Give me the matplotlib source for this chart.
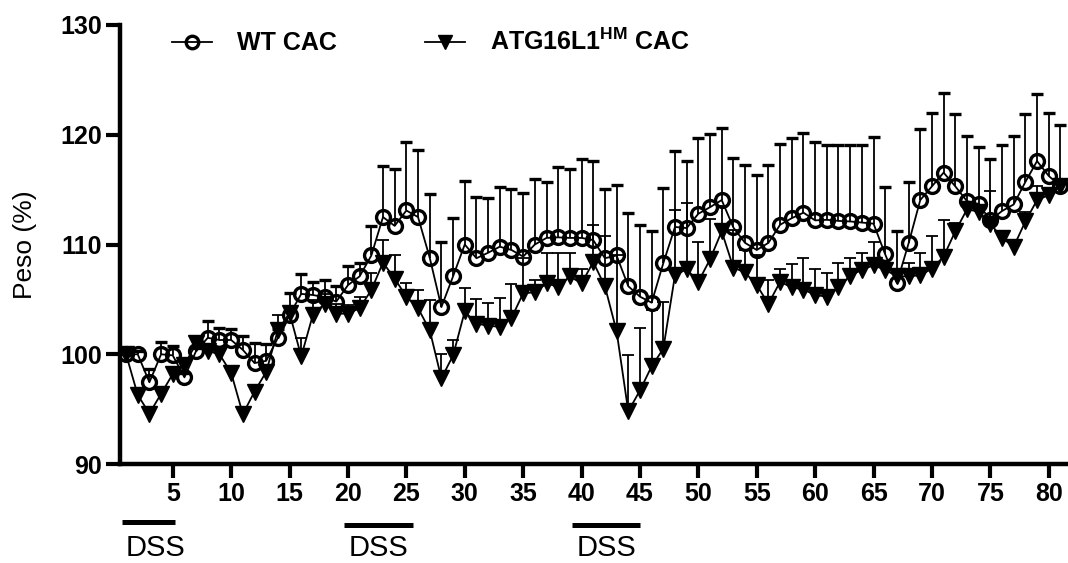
import numpy as np
import matplotlib
matplotlib.use('Agg')
import matplotlib.pyplot as plt
import matplotlib.transforms as mtransforms

plt.rcParams['font.family'] = ['Liberation Sans', 'DejaVu Sans']
plt.rcParams['mathtext.fontset'] = 'custom'
plt.rcParams['mathtext.rm'] = 'Liberation Sans'
plt.rcParams['mathtext.bf'] = 'Liberation Sans:bold'

# Days
days = np.arange(1, 82)

# WT CAC: mean weight (%) and SD (upper bar only)
wt_mean = [100.0, 100.0, 97.45, 100.0, 99.9, 97.9, 100.3, 101.5, 101.3, 101.3,
           100.4, 99.2, 99.4, 101.5, 103.6, 105.5, 105.4, 105.2, 104.8, 106.3,
           107.1, 109.0, 112.5, 111.7, 113.1, 112.5, 108.8, 104.3, 107.1, 110.0,
           108.75, 109.25, 109.8, 109.5, 108.9, 110.0, 110.6, 110.65, 110.6, 110.6,
           110.4, 108.75, 109.0, 106.2, 105.25, 104.7, 108.3, 111.6, 111.5, 112.8,
           113.4, 114.05, 111.55, 110.15, 109.5, 110.15, 111.8, 112.4, 112.9, 112.2,
           112.25, 112.15, 112.1, 112.0, 111.9, 109.1, 106.5, 110.1, 114.05, 115.3,
           116.55, 115.3, 113.95, 113.7, 112.2, 113.05, 113.65, 115.7, 117.6, 116.25,
           115.3]
wt_sd = [0.0, 0.3, 1.25, 1.1, 0.85, 0.4, 0.3, 1.5, 1.1, 1.0,
         1.3, 1.8, 1.5, 0.8, 1.95, 1.8, 1.2, 1.6, 1.4, 1.7,
         1.2, 2.7, 4.65, 5.15, 6.2, 6.1, 5.8, 5.95, 5.35, 5.8,
         5.55, 4.95, 5.4, 5.55, 5.8, 6.0, 5.05, 6.4, 6.3, 7.15,
         7.2, 6.3, 6.4, 6.65, 6.55, 6.55, 6.85, 6.9, 6.1, 6.9,
         6.65, 6.55, 6.3, 7.05, 6.8, 7.05, 7.35, 7.3, 7.3, 7.1,
         6.85, 6.9, 6.95, 7.05, 7.9, 6.1, 4.7, 5.6, 6.45, 6.7,
         7.25, 6.6, 5.95, 5.15, 5.6, 6.0, 6.25, 6.2, 6.1, 5.75,
         5.6]

# ATG16L1 HM CAC
atg_mean = [100.0, 96.3, 94.6, 96.4, 98.2, 99.0, 101.0, 100.3, 100.0, 98.3,
            94.55, 96.6, 98.4, 102.2, 103.75, 99.8, 103.6, 104.6, 103.7, 103.7,
            104.2, 105.85, 108.35, 106.9, 105.25, 104.2, 102.2, 97.8, 99.9, 103.9,
            102.8, 102.6, 102.5, 103.3, 105.55, 105.65, 106.45, 106.15, 107.1, 106.45,
            108.4, 106.2, 102.1, 94.8, 96.7, 98.9, 100.5, 107.2, 107.75, 106.6,
            108.65, 111.2, 107.9, 107.45, 106.3, 104.6, 106.6, 106.1, 105.9, 105.4,
            105.25, 106.1, 107.15, 107.7, 108.1, 107.7, 107.1, 107.1, 107.2, 107.8,
            108.9, 111.2, 113.2, 113.0, 111.9, 110.6, 109.8, 112.1, 114.05, 114.5,
            115.3]
atg_sd = [0.0, 0.45, 0.4, 0.65, 0.4, 0.4, 0.4, 0.5, 0.5, 0.5,
          0.35, 0.5, 0.5, 1.4, 0.55, 1.65, 1.3, 0.9, 0.9, 0.8,
          1.05, 1.55, 2.05, 2.1, 1.25, 1.65, 2.75, 2.2, 1.4, 2.1,
          2.2, 2.1, 2.6, 3.1, 3.25, 1.15, 2.8, 3.1, 2.15, 1.35,
          3.4, 4.6, 6.9, 5.1, 5.65, 5.1, 4.3, 5.9, 6.0, 3.65,
          3.65, 2.3, 3.4, 2.05, 2.7, 2.2, 1.15, 2.1, 2.85, 2.35,
          2.15, 2.2, 1.65, 1.55, 2.15, 0.5, 0.5, 1.25, 2.05, 3.0,
          3.3, 0.8, 0.5, 0.6, 3.0, 0.4, 0.6, 0.9, 1.25, 0.5,
          0.7]

# DSS periods (day ranges)
dss_start = [0.65, 19.7, 39.2]
dss_end = [5.2, 25.55, 45.0]

fig = plt.figure(figsize=(10.68, 5.63), dpi=100)
ax = fig.add_axes([0.1124, 0.1758, 0.8876, 0.7798])

zeros = np.zeros(len(days))

wt = ax.errorbar(days, wt_mean, yerr=[zeros, wt_sd], color='black', lw=1.3,
                 marker='o', ms=10, mfc='none', mec='black', mew=2.4,
                 elinewidth=1.3, capsize=4.3, capthick=1.3, clip_on=False, zorder=3)
wt[1][0].set_visible(False)

atg = ax.errorbar(days, atg_mean, yerr=[zeros, atg_sd], color='black', lw=1.3,
                  marker='v', ms=11, mfc='black', mec='black',
                  elinewidth=1.3, capsize=4.3, capthick=1.3, clip_on=False, zorder=4)
atg[1][0].set_visible(False)

ax.set_xlim(0.486, 81.65)
ax.set_ylim(90, 130)
ax.set_xticks(np.arange(5, 81, 5))
ax.set_yticks([90, 100, 110, 120, 130])

for s in ['top', 'right']:
    ax.spines[s].set_visible(False)
for s in ['left', 'bottom']:
    ax.spines[s].set_linewidth(3.2)

ax.tick_params(axis='both', direction='out', length=10, width=3, labelsize=18, pad=3)
for lab in ax.get_xticklabels() + ax.get_yticklabels():
    lab.set_fontweight('bold')

ax.set_ylabel('Peso (%)', fontsize=19)
ax.yaxis.set_label_coords(-0.088, 0.5)

leg = ax.legend([wt[0], atg[0]], ['WT CAC', r'ATG16L1$^{\mathbf{HM}}$ CAC'],
                loc='center left', bbox_to_anchor=(0.055, 0.961), ncol=2,
                frameon=False, handlelength=1.6, handletextpad=1.0,
                columnspacing=3.5, borderaxespad=0, borderpad=0, markerscale=0.9,
                prop={'size': 18, 'weight': 'bold'})

# DSS bars below the x axis
trans = mtransforms.blended_transform_factory(ax.transData, ax.transAxes)
bar_y = [-0.132, -0.139, -0.139]
for x0, x1, by in zip(dss_start, dss_end, bar_y):
    ax.plot([x0, x1], [by, by], color='black', lw=3.6, transform=trans,
            clip_on=False, solid_capstyle='butt')
    ax.text((x0 + x1) / 2 + (0.6 if x0 < 1 else 0), -0.192, 'DSS', transform=trans,
            ha='center', va='center', fontsize=21)

fig.savefig('out.png', dpi=100)
